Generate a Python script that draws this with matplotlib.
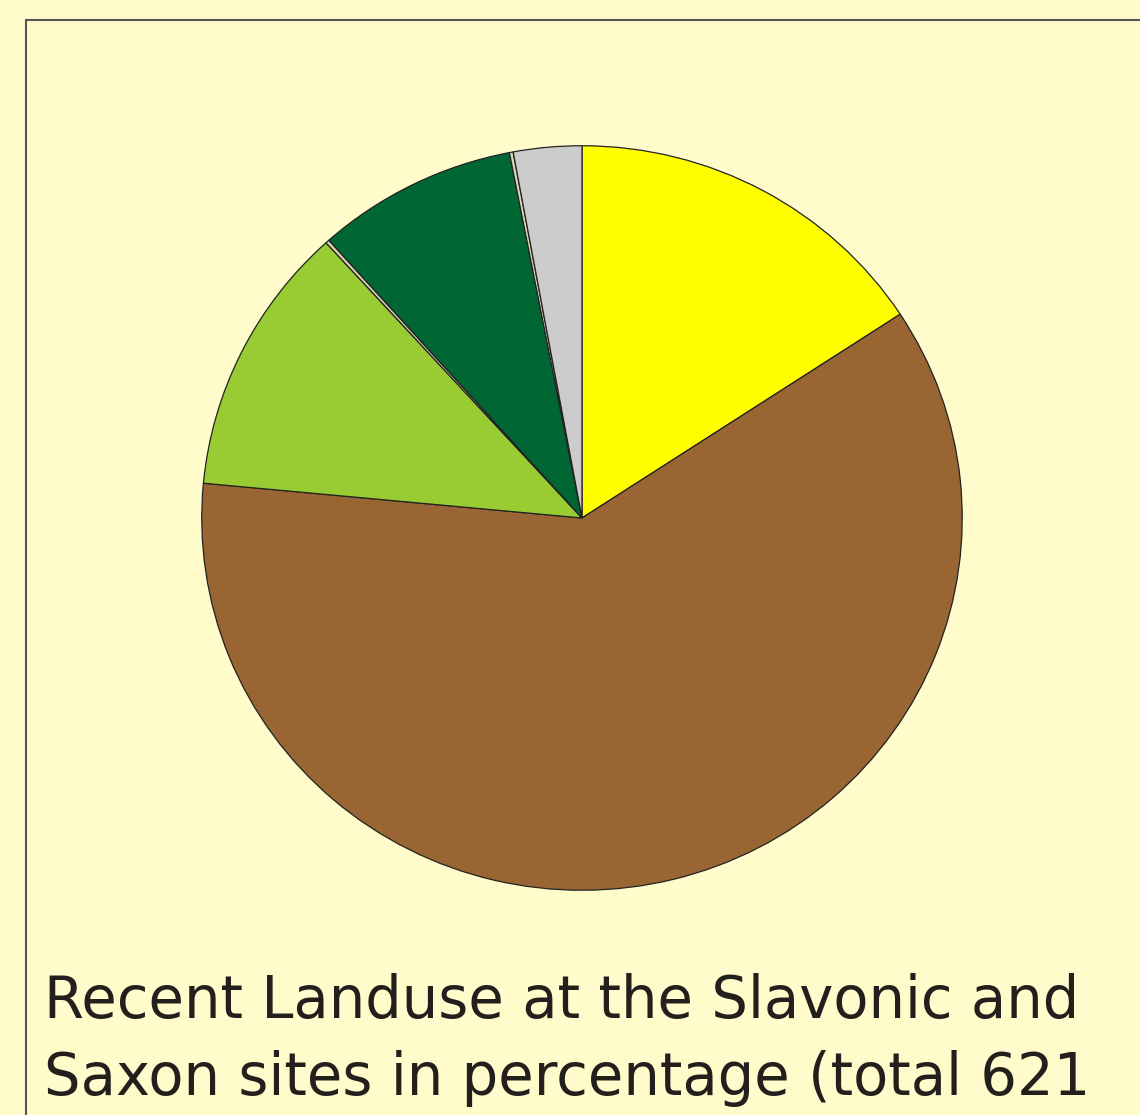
import matplotlib
matplotlib.use('Agg')
import matplotlib.pyplot as plt
from matplotlib.patches import Rectangle

# landuse categories, clockwise from 12 o'clock (sites, total 621)
categories = ['arable', 'settlement', 'grassland', 'other1', 'forest', 'other2', 'water']
sites = [98, 377, 73, 1, 53, 1, 18]
colors = ['#ffff00', '#996633', '#99cc33', '#d8d4b0', '#006633', '#d8d4b0', '#cccccc']
title_lines = ['Recent Landuse at the Slavonic and',
               'Saxon sites in percentage (total 621']

bg = '#fffbcb'
fig = plt.figure(figsize=(11.4, 11.15), dpi=100, facecolor=bg)

# frame (runs off the right and bottom edge)
fig.patches.append(Rectangle((26 / 1140, -0.1), 1.2, (1115 - 20) / 1115 + 0.1,
                             transform=fig.transFigure, fill=False,
                             edgecolor='#555555', linewidth=1.5))

ax = fig.add_axes([201 / 1140, (1115 - 891) / 1115, 762 / 1140, 746 / 1115])
ax.pie(sites, colors=colors, startangle=90, counterclock=False, radius=1,
       wedgeprops=dict(edgecolor='#222222', linewidth=0.9))
ax.set_aspect('auto')
ax.set_xlim(-1.002, 1.002)
ax.set_ylim(-1.002, 1.002)
ax.axis('off')

for line, base in zip(title_lines, [1018, 1095]):
    fig.text(44 / 1140, 1 - base / 1115, line, fontsize=41.5, family='DejaVu Sans',
             color='#231f1c', ha='left', va='baseline')

plt.savefig('out.png', dpi=100, facecolor=bg)
